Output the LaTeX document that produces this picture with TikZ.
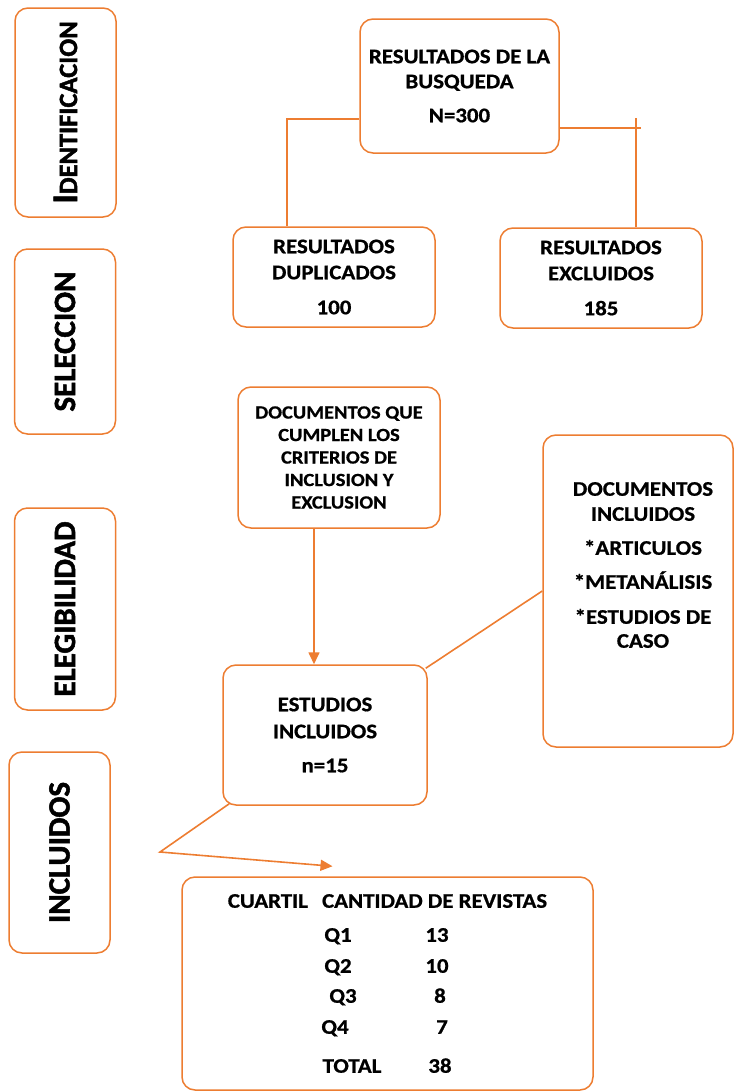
\documentclass[tikz,border=0pt]{standalone}
\usepackage{fontspec}
\usepackage{xcolor}
\usetikzlibrary{positioning, arrows.meta, calc}
\newfontfamily\boxfont[FakeStretch=1.1, FakeBold=0.8]{Carlito}
\newfontfamily\sidefont[FakeBold=1.6]{Carlito}
\definecolor{orng}{HTML}{ED7D31}
\newcommand{\qrow}[2]{\makebox[99pt]{#1}\makebox[99pt]{#2}}

\begin{document}
\begin{tikzpicture}[x=1pt, y=-1pt]
  \tikzset{
    rbox/.style={draw=orng, line width=1.5pt, rounded corners=13pt, fill=white, align=center, inner sep=0pt,
      font=\boxfont\bfseries\fontsize{20.8}{26}\selectfont},
    phase/.style={rbox, rotate=90, minimum height=101pt, font=\sidefont\bfseries\fontsize{31}{31}\selectfont},
    link/.style={draw=orng, line width=1.6pt},
    tip/.style={link, -{Triangle[length=12pt, width=11pt]}},
  }
  \useasboundingbox (0,0) rectangle (735,1092);
  %% phases on the left
  \node[phase, minimum width=209pt] (ident) at (65.5,112.5)
    {{\fontsize{36}{36}\selectfont I}{\fontsize{26.5}{26.5}\selectfont DENTIFICACION}};
  \node[phase, minimum width=185pt] (selec) at (65,341.5) {SELECCION};
  \node[phase, minimum width=202pt] (eleg) at (65,609) {ELEGIBILIDAD};
  \node[phase, minimum width=201pt] (inclu) at (59.5,852.5) {INCLUIDOS};
  %% search and first split
  \node[rbox, minimum width=199pt, minimum height=134pt] (srch) at (459.5,86)
    {RESULTADOS DE LA\\[-1pt]BUSQUEDA\\[8pt]N=300};
  \node[rbox, minimum width=202pt, minimum height=100pt] (dup) at (334,277)
    {RESULTADOS\\DUPLICADOS\\[9pt]100};
  \node[rbox, minimum width=202pt, minimum height=100pt] (excl) at (601,278)
    {RESULTADOS\\EXCLUIDOS\\[9pt]185};
  \draw[link] ([yshift=-33pt]srch.west) -| ([xshift=55pt]dup.north west);
  \draw[link] ([yshift=-42pt]srch.east) -- ++(81,0);
  \draw[link] ([xshift=137pt]excl.north west) -- ++(0,-109);
  %% criteria and included studies
  \node[rbox, minimum width=202pt, minimum height=141pt, font=\boxfont\bfseries\fontsize{18.6}{22.5}\selectfont] (crit) at (339,457.5)
    {DOCUMENTOS QUE\\CUMPLEN LOS\\CRITERIOS DE\\INCLUSION Y\\EXCLUSION};
  \node[rbox, minimum width=190pt, minimum height=312pt] (incl) at (638,591) {};
  \node[align=center, font=\boxfont\bfseries\fontsize{20.8}{25}\selectfont] (incltxt) at (643,565)
    {DOCUMENTOS\\INCLUIDOS\\[9pt]*ARTICULOS\\[9pt]*METANÁLISIS\\[10pt]*ESTUDIOS DE\\[-1pt]CASO};
  \node[rbox, minimum width=204pt, minimum height=140pt] (est) at (325,735)
    {ESTUDIOS\\[1pt]INCLUIDOS\\[8pt]n=15};
  \draw[tip] ([xshift=-25pt]crit.south) -- ([xshift=-25pt]crit.south |- est.north);
  \draw[link] ([xshift=-2pt, yshift=-4pt]est.north east) -- (incl.west);
  %% quartile table
  \node[rbox, minimum width=411pt, minimum height=213pt] (quart) at (387.5,983.5)
    {CUARTIL\hspace{9pt} CANTIDAD DE REVISTAS\\[8pt]
     \qrow{Q1}{13}\\[5pt]
     \qrow{Q2}{10}\\[4pt]
     \qrow{\hspace{10pt}Q3}{\hspace{6pt}8}\\[5pt]
     \qrow{Q4\hspace{6pt}}{\hspace{10pt}7}\\[13pt]
     \qrow{\hspace{28pt}TOTAL}{\hspace{6pt}38}};
  \coordinate (bend) at (160,852);
  \coordinate (qtip) at ([xshift=-55pt, yshift=10pt]quart.north);
  \draw[tip] ([xshift=7pt, yshift=2pt]est.south west) -- (bend) -- (qtip);
\end{tikzpicture}
\end{document}
